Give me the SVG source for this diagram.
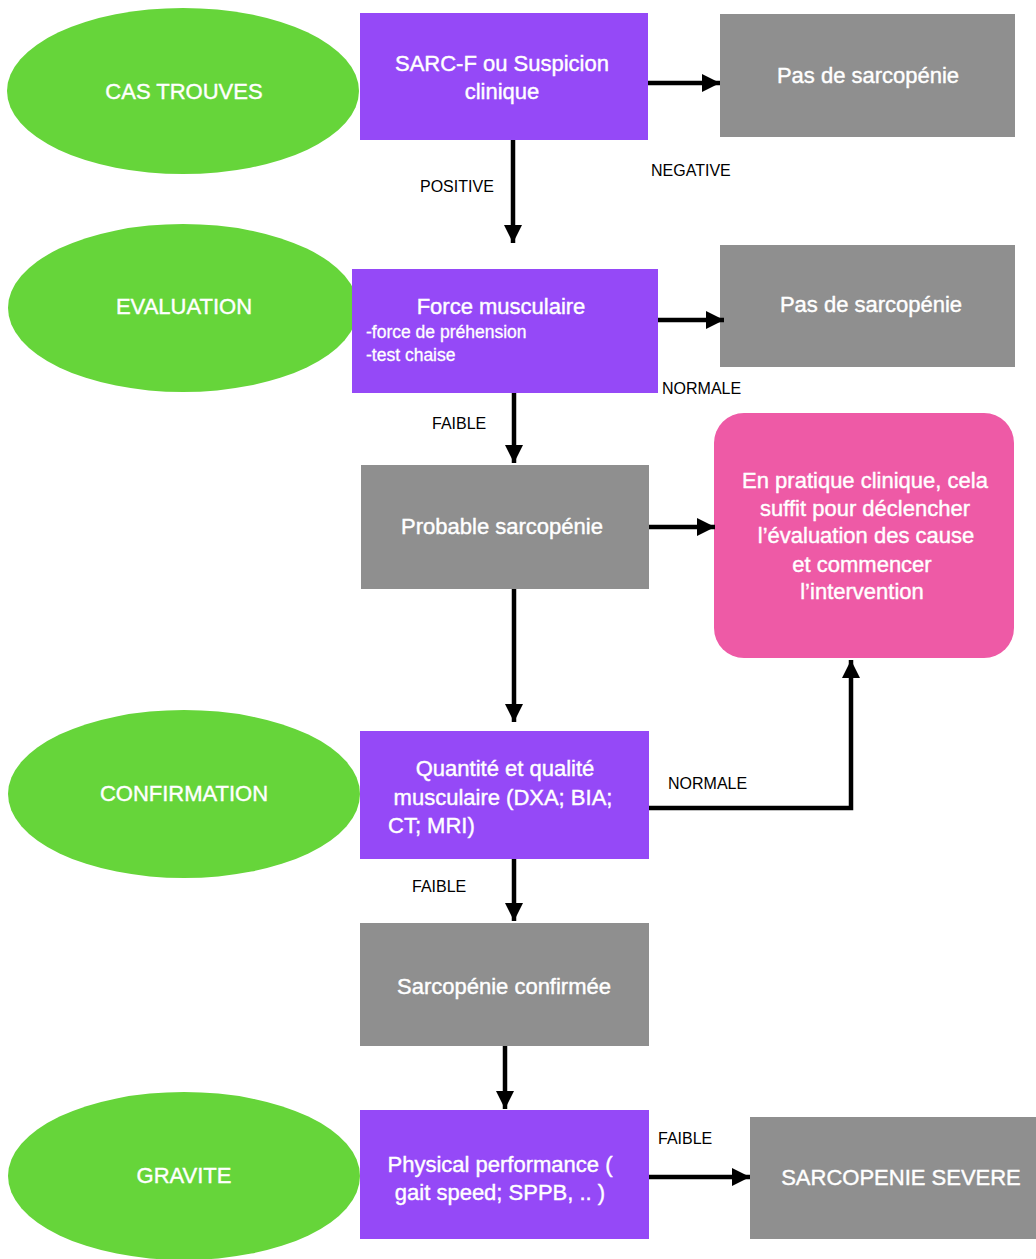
<svg xmlns="http://www.w3.org/2000/svg" width="1036" height="1259" viewBox="0 0 1036 1259">
<defs>
<marker id="ah" viewBox="0 0 10 10" refX="10" refY="5" markerWidth="4" markerHeight="4" markerUnits="strokeWidth" orient="auto">
<path d="M0,0 L10,5 L0,10 z" fill="#000"/>
</marker>
<style>
.ell{fill:#66D53A}
.pur{fill:#9549F7}
.gry{fill:#8F8F8F}
.pnk{fill:#EE5AA6}
.t{font-family:"Liberation Sans",Arial,sans-serif;font-size:22px;fill:#fff;stroke:#fff;stroke-width:0.4;text-anchor:middle}
.s{font-family:"Liberation Sans",Arial,sans-serif;font-size:17.5px;fill:#fff;stroke:#fff;stroke-width:0.3}
.lbl{font-family:"Liberation Sans",Arial,sans-serif;font-size:16px;fill:#000}
.c{fill:none;stroke:#000;stroke-width:4.5;marker-end:url(#ah)}
</style>
</defs>
<rect width="1036" height="1259" fill="#fff"/>

<g id="cas-trouves"><ellipse class="ell" cx="183" cy="91" rx="176" ry="83"/><text class="t" x="184" y="99">CAS TROUVES</text></g>
<g id="evaluation"><ellipse class="ell" cx="183" cy="308" rx="175" ry="84"/><text class="t" x="184" y="314">EVALUATION</text></g>
<g id="confirmation"><ellipse class="ell" cx="184" cy="794" rx="176" ry="84"/><text class="t" x="184" y="801">CONFIRMATION</text></g>
<g id="gravite"><ellipse class="ell" cx="184" cy="1176" rx="176" ry="84"/><text class="t" x="184" y="1183">GRAVITE</text></g>

<g id="sarcf"><rect class="pur" x="360" y="13" width="288" height="127"/><text class="t" x="502" y="71">SARC-F ou Suspicion</text><text class="t" x="502" y="99">clinique</text></g>
<g id="pas1"><rect class="gry" x="720" y="14" width="295" height="123"/><text class="t" x="868" y="83">Pas de sarcopénie</text></g>

<g id="force"><rect class="pur" x="352" y="269" width="306" height="124"/><text class="t" x="501" y="314">Force musculaire</text><text class="s" x="366" y="338">-force de préhension</text><text class="s" x="366" y="361">-test chaise</text></g>
<g id="pas2"><rect class="gry" x="720" y="245" width="295" height="122"/><text class="t" x="871" y="312">Pas de sarcopénie</text></g>

<g id="probable"><rect class="gry" x="361" y="465" width="288" height="124"/><text class="t" x="502" y="534">Probable sarcopénie</text></g>
<g id="pratique"><rect class="pnk" x="714" y="413" width="300" height="245" rx="30" ry="30"/>
<text class="t" x="865" y="488">En pratique clinique, cela</text>
<text class="t" x="865" y="516">suffit pour déclencher</text>
<text class="t" x="866" y="543">l’évaluation des cause</text>
<text class="t" x="862" y="572">et commencer</text>
<text class="t" x="862" y="599">l’intervention</text></g>

<g id="quantite"><rect class="pur" x="360" y="731" width="289" height="128"/>
<text class="t" x="505" y="776">Quantité et qualité</text>
<text class="t" x="503" y="805">musculaire (DXA; BIA;</text>
<text class="t" x="388" y="833" style="text-anchor:start">CT; MRI)</text></g>

<g id="confirmee"><rect class="gry" x="360" y="923" width="289" height="123"/><text class="t" x="504" y="994">Sarcopénie confirmée</text></g>

<g id="physical"><rect class="pur" x="360" y="1110" width="289" height="129"/>
<text class="t" x="500" y="1172">Physical performance (</text>
<text class="t" x="500" y="1200">gait speed; SPPB, .. )</text></g>
<g id="severe"><rect class="gry" x="750" y="1117" width="300" height="122"/><text class="t" x="901" y="1185">SARCOPENIE SEVERE</text></g>

<g id="connectors">
<line class="c" x1="648" y1="83" x2="720" y2="83"/>
<line class="c" x1="513" y1="140" x2="513" y2="243"/>
<line class="c" x1="658" y1="320" x2="724" y2="320"/>
<line class="c" x1="514" y1="393" x2="514" y2="463"/>
<line class="c" x1="649" y1="527" x2="715" y2="527"/>
<line class="c" x1="514" y1="589" x2="514" y2="722"/>
<polyline class="c" points="649,808 851,808 851,660"/>
<line class="c" x1="514" y1="859" x2="514" y2="921"/>
<line class="c" x1="505" y1="1046" x2="505" y2="1109"/>
<line class="c" x1="649" y1="1177" x2="750" y2="1177"/>
<text class="lbl" x="651" y="176">NEGATIVE</text>
<text class="lbl" x="420" y="192">POSITIVE</text>
<text class="lbl" x="662" y="394">NORMALE</text>
<text class="lbl" x="432" y="429">FAIBLE</text>
<text class="lbl" x="668" y="789">NORMALE</text>
<text class="lbl" x="412" y="892">FAIBLE</text>
<text class="lbl" x="658" y="1144">FAIBLE</text>
</g>
</svg>
